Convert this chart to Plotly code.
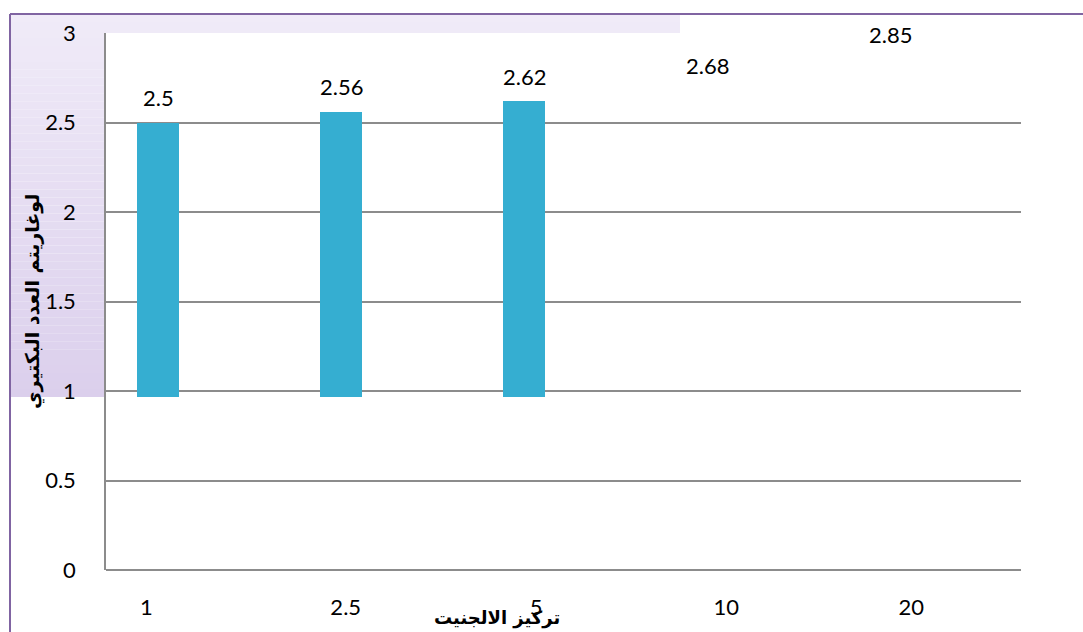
import plotly.graph_objects as go

# Alginate concentration categories and log bacterial counts
concentrations = ["1", "2.5", "5", "10", "20"]
log_counts = [2.5, 2.56, 2.62, 2.68, 2.85]
value_labels = ["2.5", "2.56", "2.62", "2.68", "2.85"]
y_ticks = [0, 0.5, 1, 1.5, 2, 2.5, 3]
y_tick_text = ["0", "0.5", "1", "1.5", "2", "2.5", "3"]

x_title = "تركيز الالجنيت"
y_title = "لوغاريتم العدد البكتيري"

# styling
BAR_BASE = 0.965
BAR_OFFSET = -0.33
BAR_WIDTH = 0.23
bar_colors = ["#35AED1", "#35AED1", "#35AED1", "rgba(0,0,0,0)", "rgba(0,0,0,0)"]
tick_nudge = [-0.28, -0.19, -0.15, -0.11, -0.10]
FONT = "Lato"
GRID = "#8c8c8c"
PURPLE = "#8064A2"

idx = list(range(len(concentrations)))

fig = go.Figure()
fig.add_trace(go.Bar(
    x=idx,
    y=[v - BAR_BASE for v in log_counts],
    base=BAR_BASE,
    offset=BAR_OFFSET,
    width=BAR_WIDTH,
    marker=dict(color=bar_colors, line=dict(width=0)),
    hoverinfo="skip",
    showlegend=False,
))

# value labels above each bar
for i, v, t in zip(idx, log_counts, value_labels):
    fig.add_annotation(
        x=i + BAR_OFFSET + BAR_WIDTH / 2, y=v, text=t,
        showarrow=False, yshift=25,
        font=dict(family=FONT, size=22, color="#000000"),
    )

# lavender gradient panel behind the axis area (left and top strips)
top_c = (240, 235, 248)
bot_c = (219, 207, 236)
panel_top_px, panel_bot_px = 14, 397
plot_top_px, plot_bot_px = 33, 570
plot_l_px, plot_w_px = 106, 915
plot_h_px = plot_bot_px - plot_top_px


def py(px):
    return (plot_bot_px - px) / plot_h_px


def pxx(px):
    return (px - plot_l_px) / plot_w_px


steps = 48
for k in range(steps):
    y0p = panel_top_px + (panel_bot_px - panel_top_px) * k / steps
    y1p = panel_top_px + (panel_bot_px - panel_top_px) * (k + 1) / steps
    f = (k + 0.5) / steps
    col = "rgb(%d,%d,%d)" % tuple(round(a + (b - a) * f) for a, b in zip(top_c, bot_c))
    # left strip
    fig.add_shape(type="rect", xref="paper", yref="paper",
                  x0=pxx(10), x1=pxx(106), y0=py(y1p), y1=py(y0p),
                  fillcolor=col, line=dict(width=0), layer="below")
    # top strip above the plot area
    if y0p < plot_top_px:
        fig.add_shape(type="rect", xref="paper", yref="paper",
                      x0=pxx(106), x1=pxx(680), y0=py(min(y1p, plot_top_px)), y1=py(y0p),
                      fillcolor=col, line=dict(width=0), layer="below")

# purple chart border (top and left edges)
fig.add_shape(type="line", xref="paper", yref="paper",
              x0=pxx(10), x1=pxx(1083), y0=py(14), y1=py(14),
              line=dict(color=PURPLE, width=2))
fig.add_shape(type="line", xref="paper", yref="paper",
              x0=pxx(10), x1=pxx(10), y0=py(14), y1=py(640),
              line=dict(color=PURPLE, width=2))

# axis titles
fig.add_annotation(
    xref="paper", yref="paper", x=pxx(33), y=py(302), text="<b>%s</b>" % y_title,
    textangle=-90, showarrow=False, xanchor="center", yanchor="middle",
    font=dict(family="DejaVu Sans", size=19, color="#000000"),
)
fig.add_annotation(
    xref="paper", yref="paper", x=pxx(497), y=py(618), text="<b>%s</b>" % x_title,
    showarrow=False, xanchor="center", yanchor="middle",
    font=dict(family="DejaVu Sans", size=18, color="#000000"),
)

fig.update_layout(
    width=1083, height=632,
    margin=dict(l=106, r=62, t=33, b=62),
    paper_bgcolor="#ffffff",
    plot_bgcolor="#ffffff",
    showlegend=False,
    bargap=0,
)
fig.update_xaxes(
    range=[-0.5, 4.5],
    tickvals=[i + n for i, n in zip(idx, tick_nudge)],
    ticktext=concentrations,
    showgrid=False, zeroline=False,
    showline=False,
    ticks="outside", ticklen=18, tickcolor="rgba(0,0,0,0)",
    tickfont=dict(family=FONT, size=22, color="#000000"),
)
fig.update_yaxes(
    range=[0, 3],
    tickvals=y_ticks, ticktext=y_tick_text,
    showgrid=True, gridcolor=GRID, gridwidth=1.5,
    zeroline=True, zerolinecolor=GRID, zerolinewidth=1.5,
    showline=True, linecolor=GRID, linewidth=1.5,
    ticks="outside", ticklen=24, tickcolor="rgba(0,0,0,0)",
    tickfont=dict(family=FONT, size=22, color="#000000"),
)

fig.write_html("out.html")
